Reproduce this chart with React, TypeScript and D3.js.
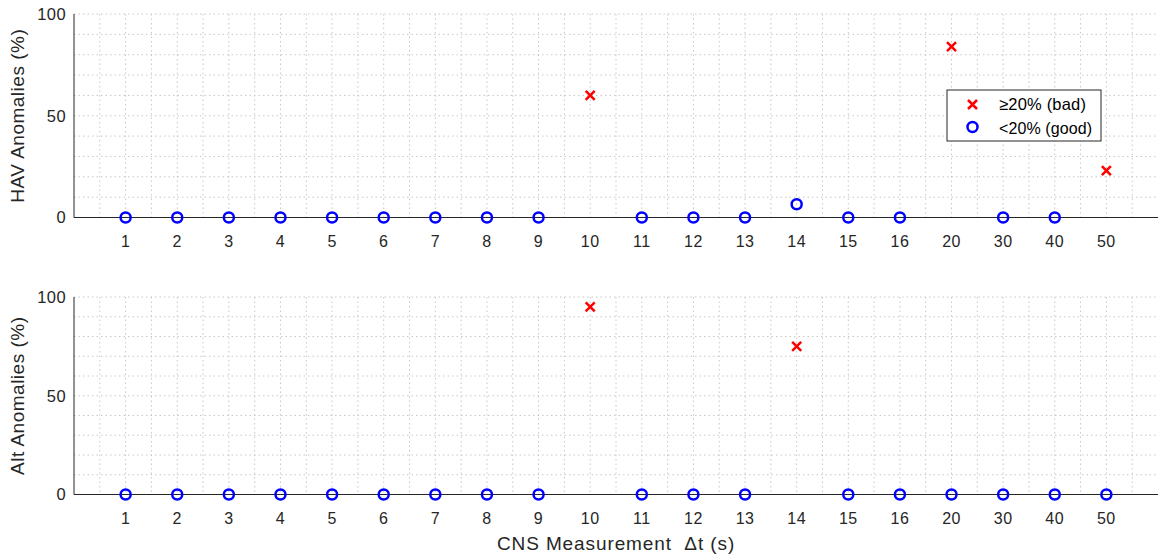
import React from "react";
import * as d3 from "d3";

// Measurement intervals (s), plotted at evenly spaced category slots
const intervals = [1, 2, 3, 4, 5, 6, 7, 8, 9, 10, 11, 12, 13, 14, 15, 16, 20, 30, 40, 50];
// Percentage of runs flagged as anomalous, per interval
const havAnomalies = [0, 0, 0, 0, 0, 0, 0, 0, 0, 60, 0, 0, 0, 6.5, 0, 0, 84, 0, 0, 23];
const altAnomalies = [0, 0, 0, 0, 0, 0, 0, 0, 0, 95, 0, 0, 0, 75, 0, 0, 0, 0, 0, 0];
const yTicks = [0, 50, 100];
const threshold = 20;

const W = 1161;
const H = 559;
const FONT = "'Liberation Sans', Arial, Helvetica, sans-serif";
const AXIS = "#262626";
const GRID = "#c8c8c8";

const x = d3.scaleLinear().domain([0, intervals.length + 1]).range([74, 1158]);
const minorX = d3.range(0.5, intervals.length + 1, 0.5);
const minorY = d3.range(10, 101, 10);

function Panel({ values, top, bottom, label }: { values: number[]; top: number; bottom: number; label: string }) {
  const y = d3.scaleLinear().domain([0, 100]).range([bottom, top]);
  const [x0, x1] = x.range();
  const labelY = (top + bottom) / 2;
  return (
    <g>
      {minorX.map((v) => (
        <line key={"gx" + v} x1={x(v)} x2={x(v)} y1={top} y2={bottom} stroke={GRID} strokeWidth={1} strokeDasharray="1.5,3" />
      ))}
      {minorY.map((v) => (
        <line key={"gy" + v} x1={x0} x2={x1} y1={y(v)} y2={y(v)} stroke={GRID} strokeWidth={1} strokeDasharray="1.5,3" />
      ))}
      <line x1={x0} x2={x0} y1={top} y2={bottom} stroke={AXIS} strokeWidth={1} />
      <line x1={x0} x2={x1} y1={bottom} y2={bottom} stroke={AXIS} strokeWidth={1} />
      {yTicks.map((t) => (
        <text key={"yt" + t} x={x0 - 8} y={y(t)} dy="0.35em" textAnchor="end" fontSize={16.5} letterSpacing={0.4} fill={AXIS} fontFamily={FONT}>
          {t}
        </text>
      ))}
      {intervals.map((v, i) => (
        <text key={"xt" + v} x={x(i + 1)} y={bottom + 24} dy="0.35em" textAnchor="middle" fontSize={16} letterSpacing={0.5} fill={AXIS} fontFamily={FONT}>
          {v}
        </text>
      ))}
      <text
        transform={`translate(24,${labelY}) rotate(-90)`}
        textAnchor="middle"
        fontSize={19}
        letterSpacing={0.5}
        fill={AXIS}
        fontFamily={FONT}
      >
        {label}
      </text>
      {values.map((v, i) =>
        v >= threshold ? (
          <path
            key={"m" + i}
            d={`M${x(i + 1) - 4.5},${y(v) - 4.5}L${x(i + 1) + 4.5},${y(v) + 4.5}M${x(i + 1) - 4.5},${y(v) + 4.5}L${x(i + 1) + 4.5},${y(v) - 4.5}`}
            stroke="#ff0000"
            strokeWidth={2.5}
            fill="none"
          />
        ) : (
          <circle key={"m" + i} cx={x(i + 1)} cy={y(v)} r={5} stroke="#0000ff" strokeWidth={2.5} fill="none" />
        )
      )}
    </g>
  );
}

export default function App() {
  return (
    <svg width={W} height={H} style={{ position: "absolute", left: 0, top: 0, background: "#fff" }}>
      <rect width={W} height={H} fill="#fff" />
      <Panel values={havAnomalies} top={14} bottom={217.5} label="HAV Anomalies (%)" />
      <Panel values={altAnomalies} top={297} bottom={494.5} label="Alt Anomalies (%)" />
      <text x={616} y={543} dy="0.35em" textAnchor="middle" fontSize={19} letterSpacing={0.9} fill={AXIS} fontFamily={FONT} style={{ whiteSpace: "pre" }}>
        {"CNS Measurement  Δt (s)"}
      </text>
      {/* legend */}
      <g>
        <rect x={947} y={90} width={154} height={51} fill="#fff" stroke={AXIS} strokeWidth={1} />
        <path d="M968,100L977,109M968,109L977,100" stroke="#ff0000" strokeWidth={2.5} fill="none" />
        <circle cx={972.5} cy={127} r={5} stroke="#0000ff" strokeWidth={2.5} fill="none" />
        <text x={999} y={104.5} dy="0.35em" fontSize={16.5} letterSpacing={0.2} fill="#000" fontFamily={FONT}>
          ≥20% (bad)
        </text>
        <text x={999} y={128} dy="0.35em" fontSize={16} letterSpacing={0.1} fill="#000" fontFamily={FONT}>
          &lt;20% (good)
        </text>
      </g>
    </svg>
  );
}
